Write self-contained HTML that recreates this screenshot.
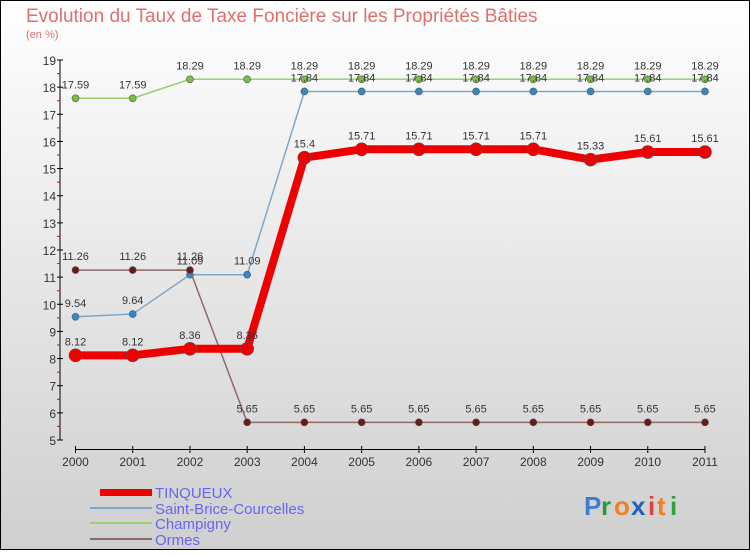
<!DOCTYPE html>
<html><head><meta charset="utf-8"><style>
html,body{margin:0;padding:0}
body{width:750px;height:550px;overflow:hidden;font-family:"Liberation Sans",sans-serif}
svg text{font-family:"Liberation Sans",sans-serif}
</style></head><body>
<svg width="750" height="550" xmlns="http://www.w3.org/2000/svg">
<defs><linearGradient id="bg" x1="0" y1="0" x2="0" y2="1"><stop offset="0" stop-color="#ffffff"/><stop offset="1" stop-color="#cfcfcf"/></linearGradient></defs>
<rect x="0.5" y="0.5" width="749" height="549" fill="url(#bg)" stroke="#000"/>
<text x="26" y="22" font-size="19" fill="#e0706e">Evolution du Taux de Taxe Foncière sur les Propriétés Bâties</text>
<text x="26" y="38" font-size="11" fill="#e0706e">(en %)</text>
<g id="axes"></g>
<g id="series"></g>
<g>
<rect x="100" y="489" width="52" height="7" fill="#ee0000"/>
<text x="155" y="498" font-size="15" fill="#6666ee">TINQUEUX</text>
<rect x="90" y="507" width="62" height="2" fill="#7fa8c8"/>
<text x="155" y="514" font-size="15" fill="#6666ee">Saint-Brice-Courcelles</text>
<rect x="90" y="522" width="62" height="2" fill="#99d070"/>
<text x="155" y="529" font-size="15" fill="#6666ee">Champigny</text>
<rect x="90" y="538" width="62" height="2" fill="#906868"/>
<text x="155" y="545" font-size="15" fill="#6666ee">Ormes</text>
</g>
<g font-size="26" font-weight="bold">
<text x="584" y="515" fill="#3a7fd0">P</text><text x="601" y="515" fill="#2a9a40">r</text><text x="614" y="515" fill="#f08020">o</text><text x="631" y="515" fill="#2060c0">x</text><text x="648" y="515" fill="#e04040">i</text><text x="657" y="515" fill="#f08020">t</text><text x="670" y="515" fill="#30a040">i</text>
</g>
</svg>
<script>
const years=["2000","2001","2002","2003","2004","2005","2006","2007","2008","2009","2010","2011"];
const yTicks=[5,6,7,8,9,10,11,12,13,14,15,16,17,18,19];
const tinqueux=[8.12,8.12,8.36,8.36,15.4,15.71,15.71,15.71,15.71,15.33,15.61,15.61];
const saintBrice=[9.54,9.64,11.09,11.09,17.84,17.84,17.84,17.84,17.84,17.84,17.84,17.84];
const champigny=[17.59,17.59,18.29,18.29,18.29,18.29,18.29,18.29,18.29,18.29,18.29,18.29];
const ormes=[11.26,11.26,11.26,5.65,5.65,5.65,5.65,5.65,5.65,5.65,5.65,5.65];
const NS="http://www.w3.org/2000/svg";
const xS=i=>75.5+i*(705-75.5)/11;
const yS=v=>440-(v-5)*(380/14);
function mk(t,a,p){const e=document.createElementNS(NS,t);for(const k in a)e.setAttribute(k,a[k]);p.appendChild(e);return e;}
const ax=document.getElementById('axes');
let yl=mk('line',{x1:60,y1:yS(19),x2:60,y2:yS(5),stroke:'#000'},ax);


yTicks.forEach(v=>{
 let t=mk('line',{x1:57,x2:63,y1:yS(v),y2:yS(v),stroke:'#000'},ax);
 
 
 if(v<19){let m=mk('line',{x1:57,x2:60,y1:yS(v+0.5),y2:yS(v+0.5),stroke:'#e00'},ax);
 
 }
 let l=mk('text',{x:56,y:yS(v)+5,'font-size':12,'text-anchor':'end',fill:'#333'},ax);l.textContent=v;
 
 
});
let xl=mk('line',{x1:xS(0),y1:449.5,x2:xS(11),y2:449.5,stroke:'#000'},ax);


years.forEach((y,i)=>{
 let t=mk('line',{x1:xS(i),x2:xS(i),y1:446,y2:453,stroke:'#000'},ax);
 
 
 let l=mk('text',{x:xS(i),y:466,'font-size':12,'text-anchor':'middle',fill:'#333'},ax);l.textContent=y;
 
 
});
const sg=document.getElementById('series');
function series(name,data,color,w,r,fill){
 const g=mk('g',{},sg);
 
 
 let pl=mk('polyline',{points:data.map((v,i)=>xS(i)+','+yS(v)).join(' '),fill:'none',stroke:color,'stroke-width':w,'stroke-linejoin':'round'},g);
 
 
 data.forEach((v,i)=>{
  let c=mk('circle',{cx:xS(i),cy:yS(v),r:r,fill:fill,stroke:'#555','stroke-width':0.6},g);
  
  
  let t=mk('text',{x:xS(i),y:yS(v)-10,'font-size':11,'text-anchor':'middle',fill:'#333'},g);
  t.textContent=String(v);
  
  
 });
}
series('champigny',champigny,'#99d070',1.5,3.5,'#77c040');
series('saint-brice',saintBrice,'#7fa8c8',1.5,3.5,'#3388cc');
series('ormes',ormes,'#906868',1.5,3.5,'#6a1a1a');
series('tinqueux',tinqueux,'#ee0000',8,6.5,'#ee0000');
</script>
</body></html>
